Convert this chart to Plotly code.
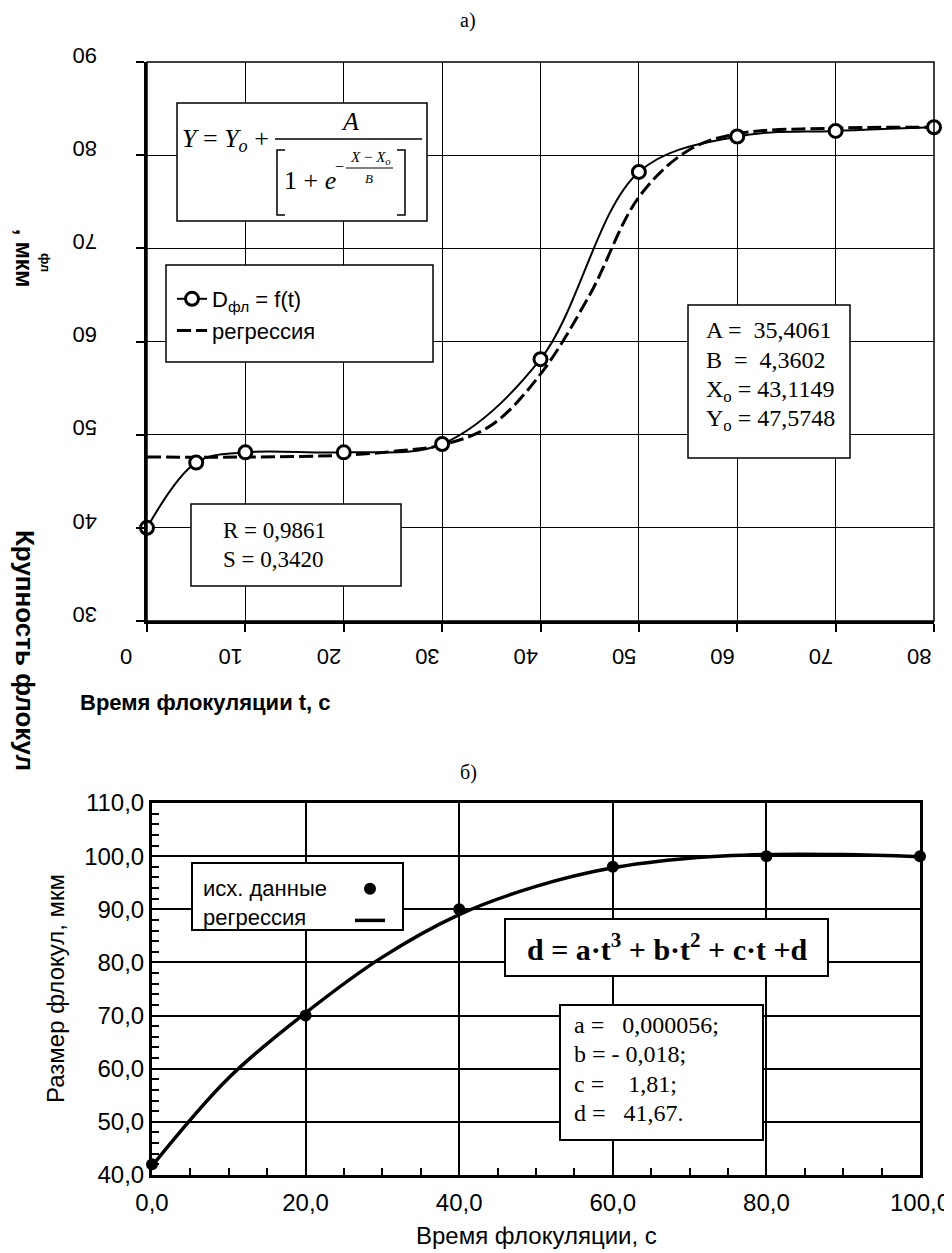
import plotly.graph_objects as go

# page body adds an 8px margin, so the figure covers 8..952 x 8..1253
OFF = 8
W, H = 952 - OFF, 1253 - OFF

# ---- data: panel a) ----
t_top = [0, 5, 10, 20, 30, 40, 50, 60, 70, 80]
d_top = [40.0, 47.0, 48.1, 48.1, 49.0, 58.1, 78.2, 82.0, 82.6, 83.0]
t_reg_top = [0, 10, 20, 25, 30, 35, 40, 45, 50, 55, 60, 70, 80]
d_reg_top = [47.6, 47.6, 47.8, 48.2, 48.9, 51.0, 56.5, 65.0, 75.5, 80.5, 82.3, 82.9, 83.0]
x_ticks_top = [0, 10, 20, 30, 40, 50, 60, 70, 80]
y_ticks_top = [30, 40, 50, 60, 70, 80, 90]

# ---- data: panel б) ----
t_bot = [0, 20, 40, 60, 80, 100]
d_bot = [42.0, 70.0, 90.0, 98.0, 100.0, 100.0]
t_reg_bot = [0, 10, 20, 30, 40, 50, 60, 70, 80, 90, 100]
d_reg_bot = [41.7, 58.3, 70.5, 81.0, 89.0, 94.3, 97.8, 99.6, 100.3, 100.3, 99.9]


def px(x):
    return (x - OFF) / W


def py(y):
    return 1 - (y - OFF) / H


NB = '\u00a0'

fig = go.Figure()

# panel a traces
fig.add_trace(go.Scatter(
    x=t_reg_top, y=d_reg_top, mode='lines', name='регрессия',
    line=dict(color='black', width=3, dash='14px,5px', shape='spline', smoothing=1),
    xaxis='x', yaxis='y', legend='legend', legendrank=2, cliponaxis=False))
fig.add_trace(go.Scatter(
    x=t_top, y=d_top, mode='lines+markers', name='D<sub>фл</sub> = f(t)',
    line=dict(color='black', width=2, shape='spline', smoothing=1),
    marker=dict(symbol='circle', size=13, color='white', line=dict(color='black', width=3)),
    xaxis='x', yaxis='y', legend='legend', legendrank=1, cliponaxis=False))

# panel b traces
fig.add_trace(go.Scatter(
    x=t_reg_bot, y=d_reg_bot, mode='lines', name=' ',
    line=dict(color='black', width=3.5, shape='spline', smoothing=1),
    xaxis='x2', yaxis='y2', legend='legend2', legendrank=2, cliponaxis=False))
fig.add_trace(go.Scatter(
    x=t_bot, y=d_bot, mode='markers', name=' ',
    marker=dict(symbol='circle', size=12, color='black'),
    xaxis='x2', yaxis='y2', legend='legend2', legendrank=1, cliponaxis=False))

tick_top_font = dict(family='Arial', size=22, color='black')
tick_bot_font = dict(family='Arial', size=24, color='black')

fig.update_layout(
    width=W, height=H, autosize=False,
    margin=dict(l=0, r=0, t=0, b=0),
    paper_bgcolor='white', plot_bgcolor='white',
    separators=', ',
    xaxis=dict(domain=[px(147), px(934)], range=[0, 80], anchor='y',
               tickmode='array', tickvals=x_ticks_top,
               showgrid=True, gridcolor='black', gridwidth=1.2,
               showline=True, linecolor='black', linewidth=3, zeroline=False,
               ticks='outside', ticklen=8, tickwidth=1.5, tickcolor='black',
               tickangle=180, tickfont=tick_top_font, ticklabelstandoff=13,
               ticklabelshift=-27, ticklabeloverflow='allow',
               automargin=False),
    yaxis=dict(domain=[py(621), py(62)], range=[30, 90], anchor='x',
               tickmode='array', tickvals=y_ticks_top,
               showgrid=True, gridcolor='black', gridwidth=1.2,
               showline=True, linecolor='black', linewidth=3, zeroline=False,
               ticks='outside', ticklen=8, tickwidth=1.5, tickcolor='black',
               tickangle=180, tickfont=tick_top_font, ticklabelstandoff=59,
               ticklabeloverflow='allow', automargin=False),
    xaxis2=dict(domain=[px(152), px(920)], range=[0, 100], anchor='y2',
                dtick=20, tick0=0, tickformat='.1f',
                showgrid=True, gridcolor='black', gridwidth=2,
                showline=True, mirror=True, linecolor='black', linewidth=3, zeroline=False,
                ticks='inside', ticklen=8, tickwidth=1.5, tickcolor='black',
                minor=dict(dtick=5, ticks='inside', ticklen=7, tickwidth=1.5,
                           tickcolor='black', showgrid=False),
                tickfont=tick_bot_font, ticklabelstandoff=4,
                ticklabeloverflow='allow', automargin=False),
    yaxis2=dict(domain=[py(1175), py(803)], range=[40, 110], anchor='x2',
                dtick=10, tick0=40, tickformat='.1f',
                showgrid=True, gridcolor='black', gridwidth=2,
                showline=True, mirror=True, linecolor='black', linewidth=3, zeroline=False,
                ticks='inside', ticklen=8, tickwidth=1.5, tickcolor='black',
                minor=dict(dtick=2, ticks='inside', ticklen=7, tickwidth=1.5,
                           tickcolor='black', showgrid=False),
                tickfont=tick_bot_font, automargin=False),
    legend=dict(x=px(172), y=py(278), xanchor='left', yanchor='top',
                bgcolor='rgba(0,0,0,0)', borderwidth=0,
                font=dict(family='Arial', size=22, color='black'), tracegroupgap=0),
    legend2=dict(x=px(350), y=py(868), xanchor='left', yanchor='top',
                 bgcolor='rgba(0,0,0,0)', borderwidth=0,
                 font=dict(family='Arial', size=22, color='black'), tracegroupgap=0),
)


def rect(x0, y0, x1, y1, w=1.5, fill='white'):
    return dict(type='rect', xref='paper', yref='paper',
                x0=px(x0), x1=px(x1), y0=py(y1), y1=py(y0),
                line=dict(color='black', width=w), fillcolor=fill, layer='above')


def line(x0, y0, x1, y1, w=1.5):
    return dict(type='line', xref='paper', yref='paper',
                x0=px(x0), x1=px(x1), y0=py(y0), y1=py(y1),
                line=dict(color='black', width=w), layer='above')


def path(pts, w=1.5):
    d = 'M ' + ' L '.join(f'{px(a):.5f},{py(b):.5f}' for a, b in pts)
    return dict(type='path', xref='paper', yref='paper', path=d,
                line=dict(color='black', width=w), layer='above')


shapes = [
    # top panel frame (thin top/right border)
    dict(type='rect', xref='x domain', yref='y domain', x0=0, x1=1, y0=0, y1=1,
         line=dict(color='black', width=1.5), fillcolor='rgba(0,0,0,0)', layer='above'),
    rect(177, 103, 427, 221),          # formula box
    line(275, 139, 422, 139),          # main fraction bar
    line(346, 168, 393, 168, 1),       # exponent fraction bar
    path([(285, 150), (277, 150), (277, 215), (285, 215)]),
    path([(397, 150), (405, 150), (405, 215), (397, 215)]),
    rect(166, 265, 433, 362),          # legend box a)
    rect(688, 305, 850, 458),          # parameter box a)
    rect(191, 504, 401, 586),          # R, S box
    rect(505, 919, 828, 976, 2),       # formula box б)
    rect(560, 1005, 763, 1140, 2),     # coefficient box б)
    rect(192, 863, 403, 930, 2),       # legend box б)
]


def ann(text, x, y, size, family='Liberation Serif', xanchor='center',
        yanchor='middle', angle=0):
    return dict(text=text, x=px(x), y=py(y), xref='paper', yref='paper',
                showarrow=False, font=dict(family=family, size=size, color='black'),
                xanchor=xanchor, yanchor=yanchor, textangle=angle, borderpad=0)


anns = [
    ann('а)', 468, 21, 20),
    ann('б)', 468, 772, 20),
    # formula a)
    ann('<i>Y</i> = <i>Y<sub>o</sub></i> +', 181, 140, 26, xanchor='left'),
    ann('<i>A</i>', 350, 122, 26),
    ann('1 + <i>e</i>', 283, 180, 26, xanchor='left'),
    ann('−', 339, 167, 16),
    ann('<i>X</i> − <i>X<sub>o</sub></i>', 370, 158, 15),
    ann('<i>B</i>', 369, 178, 13),
    # parameters a)
    ann(f'A ={NB}{NB}35,4061', 705, 330, 24, xanchor='left'),
    ann(f'B {NB}={NB}{NB}4,3602', 705, 360, 24, xanchor='left'),
    ann('X<sub>o</sub> = 43,1149', 705, 391, 24, xanchor='left'),
    ann('Y<sub>o</sub> = 47,5748', 705, 420, 24, xanchor='left'),
    ann('R = 0,9861', 222, 530, 23, xanchor='left'),
    ann('S = 0,3420', 222, 560, 23, xanchor='left'),
    # axis titles a)
    ann('<b>Время флокуляции t, с</b>', 205, 703, 22, family='Arial'),
    ann('<b>Крупность флокул</b>', 25, 650, 26, family='Arial', angle=90),
    ann('<b>, мкм</b>', 24, 258, 23, family='Arial', angle=90),
    ann('<b>фл</b>', 46, 262, 13, family='Arial', angle=90),
    # panel б)
    ann('<b>d = a·t<sup>3</sup> + b·t<sup>2</sup> + c·t +d</b>', 667, 947, 30),
    ann(f'a ={NB}{NB}{NB}0,000056;', 573, 1025, 24, xanchor='left'),
    ann(f'b = - 0,018;', 573, 1054, 24, xanchor='left'),
    ann(f'c ={NB}{NB}{NB}{NB}1,81;', 573, 1084, 24, xanchor='left'),
    ann(f'd ={NB}{NB}{NB}41,67.', 573, 1113, 24, xanchor='left'),
    ann('исх. данные', 202, 888, 22, family='Arial', xanchor='left'),
    ann('регрессия', 202, 917, 22, family='Arial', xanchor='left'),
    ann('Размер флокул, мкм', 55, 989, 24, family='Arial', angle=-90),
    ann('Время флокуляции, с', 536, 1235, 24, family='Arial'),
]

fig.update_layout(shapes=shapes, annotations=anns)
fig.write_html('out.html')
